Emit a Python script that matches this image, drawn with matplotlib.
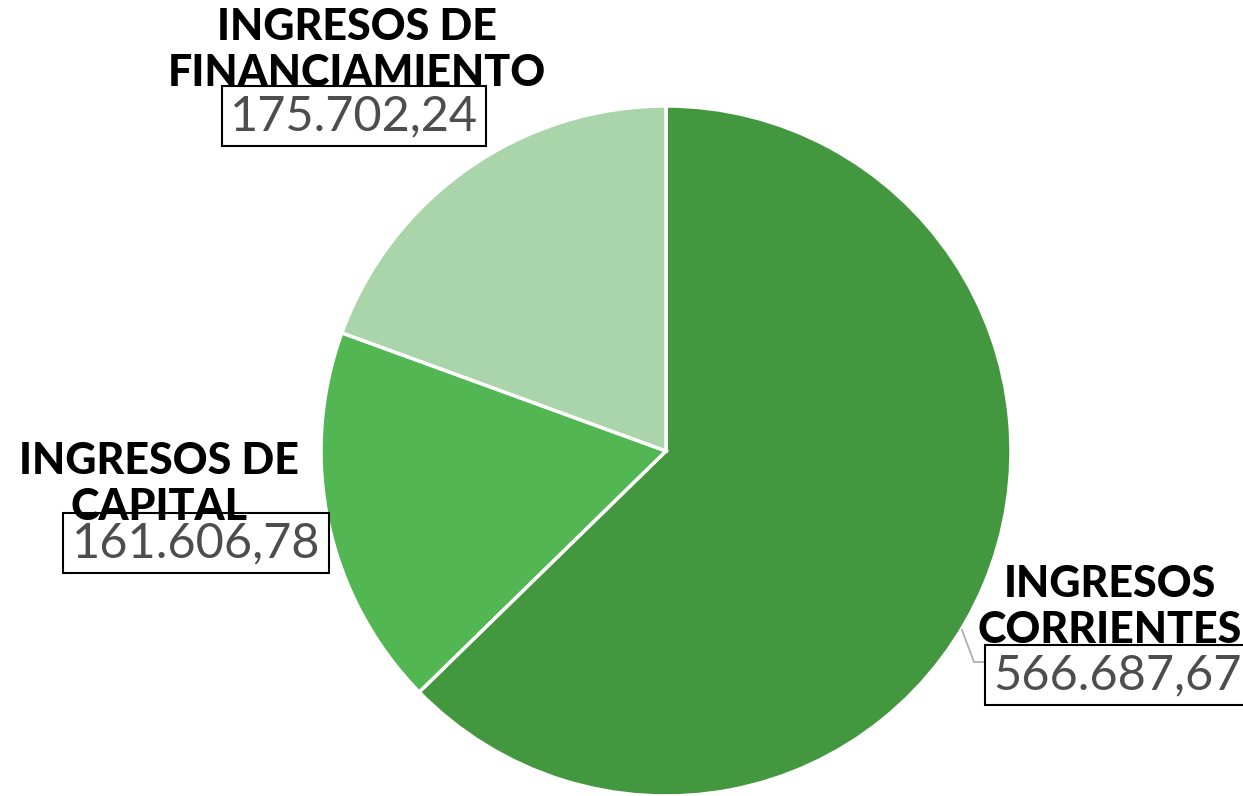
import matplotlib.pyplot as plt

W, H = 1243, 796

categories = ["INGRESOS\nCORRIENTES", "INGRESOS DE\nCAPITAL", "INGRESOS DE\nFINANCIAMIENTO"]
values = [566687.67, 161606.78, 175702.24]
colors = ["#43983F", "#52B652", "#AAD4AA"]

# label placement in pixels (x, y from top): title centre, value centre
title_pos = [(1110, 607), (159, 484), (357, 50)]
value_pos = [(1117, 675), (196, 543), (354, 116)]


def es_num(v):
    s = f"{v:,.2f}"
    return s.replace(",", "X").replace(".", ",").replace("X", ".")


fig = plt.figure(figsize=(W / 100, H / 100), dpi=100)
ax = fig.add_axes([0, 0, 1, 1])

ax.pie(values, center=(666, H - 451), radius=345, startangle=90, counterclock=False,
       colors=colors, wedgeprops=dict(edgecolor="white", linewidth=2.5))
ax.set_xlim(0, W)
ax.set_ylim(0, H)
ax.set_aspect("equal")
ax.axis("off")

# leader line for the big slice
ax.plot([962, 974, 986], [H - 630, H - 662, H - 662], color="#aaaaaa", lw=1.2, zorder=3)

for cat, v, (tx, ty), (vx, vy) in zip(categories, values, title_pos, value_pos):
    ax.text(vx, H - vy, es_num(v), ha="center", va="center", fontsize=35,
            family="Lato", weight="normal", color="#4d4d4d", zorder=4,
            bbox=dict(boxstyle="square,pad=0.17", fc="white", ec="black", lw=1.5))
    ax.text(tx, H - ty, cat, ha="center", va="center", fontsize=31,
            family="Lato", weight="black", color="black", linespacing=1.2, zorder=5)

fig.savefig("out.png", dpi=100)
